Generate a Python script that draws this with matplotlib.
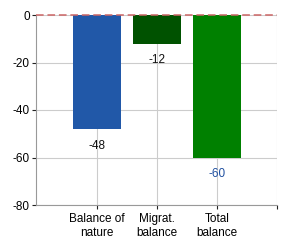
"""Population balance bar chart."""
import matplotlib
matplotlib.use("Agg")
import matplotlib.pyplot as plt
import numpy as np

CATEGORIES = ["Balance of\nnature", "Migrat.\nbalance", "Total\nbalance"]
VALUES = [-48, -12, -60]
BAR_COLOURS = ["#2158a8", "#005200", "#008000"]
LABEL_COLOURS = ["#111111", "#111111", "#1f4f9f"]
Y_TICKS = [-80, -60, -40, -20, 0]

plt.rcParams["font.family"] = ["Liberation Sans", "DejaVu Sans"]
plt.rcParams["font.size"] = 8

fig = plt.figure(figsize=(2.9, 2.5), dpi=100)
ax = fig.add_axes([0.124, 0.18, 0.831, 0.76])

x = np.arange(len(CATEGORIES))
ax.bar(x, VALUES, width=0.81, color=BAR_COLOURS, zorder=2)
for xi, v, c in zip(x, VALUES, LABEL_COLOURS):
    ax.text(xi, v - 4.5, f"{v}", ha="center", va="top", color=c, fontsize=8.5)

ax.axhline(0, color="#cc6666", linestyle=(0, (5, 2.5)), linewidth=1.1,
           zorder=3, clip_on=False)

ax.set_xlim(-1.02, 3)
ax.set_ylim(-80, 0)
ax.set_yticks(Y_TICKS)
ax.set_yticklabels([str(t) for t in Y_TICKS], fontsize=8.5)
ax.set_xticks([0, 1, 2, 3])
ax.set_xticklabels(CATEGORIES + [""], fontsize=8.5)

ax.grid(True, color="#cccccc", linewidth=0.8, zorder=0)
ax.set_axisbelow(True)
for side in ["top", "right"]:
    ax.spines[side].set_visible(False)
for side in ["left", "bottom"]:
    ax.spines[side].set_color("#999999")
ax.tick_params(axis="both", length=3, color="#222222", pad=1.5)
ax.tick_params(axis="x", pad=3)

fig.savefig("out.png", dpi=100)
